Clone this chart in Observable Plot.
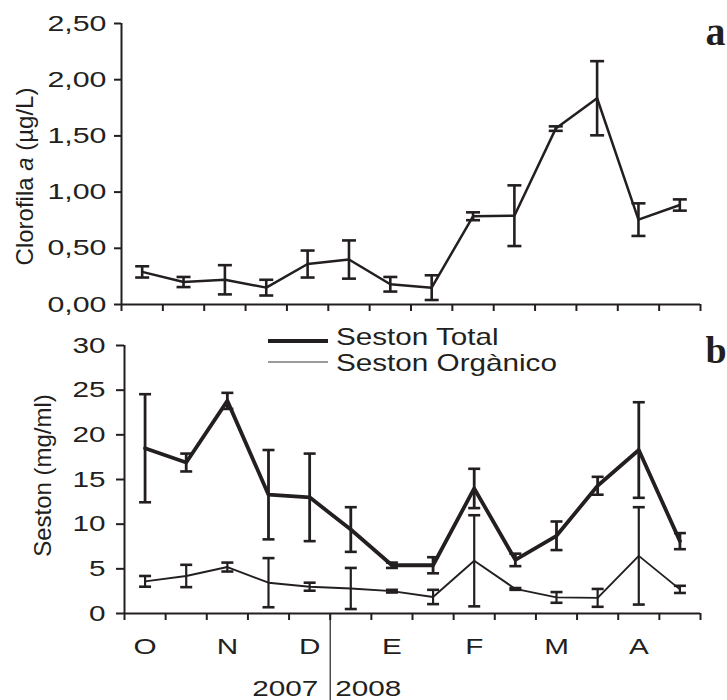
<!DOCTYPE html>
<html><head><meta charset="utf-8">
<script src="https://cdn.jsdelivr.net/npm/d3@7"></script>
<script src="https://cdn.jsdelivr.net/npm/@observablehq/plot@0.6"></script>
<style>
body{margin:0;background:#fff;}
#wrap{position:relative;width:727px;height:700px;overflow:hidden;}
#wrap > svg{display:block;}
</style></head><body><div id="wrap"></div>
<script>
// ---- data ----
const samples = [1,2,3,4,5,6,7,8,9,10,11,12,13,14];
const months = ["O","N","D","E","F","M","A"];
const monthSamples = [1,3,5,7,9,11,13];
const years = ["2007","2008"];
const samples2007 = 5;
const chlMean = [0.29,0.20,0.22,0.15,0.36,0.40,0.18,0.15,0.785,0.79,1.565,1.835,0.755,0.885];
const chlErr  = [0.05,0.045,0.13,0.07,0.12,0.17,0.065,0.11,0.035,0.27,0.02,0.33,0.145,0.05];
const totalMean = [18.5,16.9,23.8,13.3,13.0,9.4,5.4,5.4,14.0,6.0,8.7,14.3,18.3,8.1];
const totalErr  = [6.05,1.0,0.9,5.0,4.9,2.5,0.3,0.9,2.2,0.7,1.6,1.0,5.35,0.9];
const organicMean = [3.6,4.2,5.2,3.45,3.0,2.8,2.5,1.85,5.9,2.75,1.8,1.75,6.45,2.7];
const organicErr  = [0.6,1.25,0.5,2.75,0.45,2.3,0.15,0.8,5.1,0.1,0.6,1.0,5.45,0.4];
const chlTicks = [0,0.5,1,1.5,2,2.5];
const sestonTicks = [0,5,10,15,20,25,30];
const seriesNames = ["Seston Total","Seston Orgànico"];
const titleA = "Clorofila a (µg/L)";
const titleB = "Seston (mg/ml)";
const panelLetters = ["a","b"];

// ---- styling ----
const INK = "#231f20";
const FONT = "'Liberation Sans', Arial, sans-serif";
const SERIF = "'Liberation Serif', 'Times New Roman', serif";
const capSym = {draw(ctx, size){const w = Math.sqrt(size/Math.PI); ctx.moveTo(-w,0); ctx.lineTo(w,0);}};

const rows = (means, errs) => samples.map((s,i)=>({x: s-0.5, m: means[i], e: errs[i]}));
function errMarks(data, w, rr){
  return [
    Plot.ruleX(data, {x:"x", y1:d=>d.m-d.e, y2:d=>d.m+d.e, stroke:INK, strokeWidth:w}),
    Plot.dot(data, {x:"x", y:d=>d.m+d.e, symbol:capSym, r:rr, stroke:INK, strokeWidth:2.6, fill:"none"}),
    Plot.dot(data, {x:"x", y:d=>d.m-d.e, symbol:capSym, r:rr, stroke:INK, strokeWidth:2.6, fill:"none"})
  ];
}
const chl = rows(chlMean, chlErr);
const tot = rows(totalMean, totalErr);
const org = rows(organicMean, organicErr);
const boundaries = d3.range(0, samples.length+1);

const topChart = Plot.plot({
  width:727, height:312, marginLeft:121, marginRight:27, marginTop:23, marginBottom:8,
  style:{fontFamily:FONT, fontSize:"22px", color:INK, background:"#fff", overflow:"visible"},
  x:{domain:[0,samples.length]},
  y:{domain:[0,2.5]},
  marks:[
    Plot.axisY(chlTicks, {tickSize:7, tickPadding:8, strokeWidth:2, label:null, tickFormat:d=>d.toFixed(2).replace(".",",")}),
    Plot.axisX(boundaries, {tickSize:7, strokeWidth:2, label:null, tickFormat:()=>""}),
    Plot.ruleY([0], {stroke:INK, strokeWidth:2}),
    Plot.ruleX([0], {stroke:INK, strokeWidth:2}),
    ...errMarks(chl, 2.6, 7),
    Plot.line(chl, {x:"x", y:"m", stroke:INK, strokeWidth:2.5}),
    Plot.text([titleA], {frameAnchor:"left", rotate:-90, dx:-89, dy:12.5, textAnchor:"middle", lineAnchor:"bottom", fontSize:24, fill:INK}),
    Plot.text([panelLetters[0]], {frameAnchor:"top-right", dx:5, dy:21, textAnchor:"start", lineAnchor:"bottom", fontFamily:SERIF, fontWeight:"bold", fontSize:40, fill:INK})
  ]
});

const bottomChart = Plot.plot({
  width:727, height:388, marginLeft:124, marginRight:27, marginTop:33, marginBottom:87,
  style:{fontFamily:FONT, fontSize:"22px", color:INK, background:"#fff", overflow:"visible"},
  x:{domain:[0,samples.length]},
  y:{domain:[0,30]},
  marks:[
    Plot.axisY(sestonTicks, {tickSize:8, tickPadding:11, strokeWidth:2, label:null}),
    Plot.axisX(boundaries, {tickSize:7, strokeWidth:2, label:null, tickFormat:()=>""}),
    Plot.axisX(monthSamples.map(s=>s-0.5), {tickSize:0, tickPadding:25, label:null, tickFormat:d=>months[(d-0.5)/2]}),
    Plot.axisX([samples2007], {tickSize:87, strokeWidth:1.2, label:null, tickFormat:()=>""}),
    Plot.ruleY([0], {stroke:INK, strokeWidth:2}),
    Plot.ruleX([0], {stroke:INK, strokeWidth:2}),
    ...errMarks(tot, 2.8, 6),
    Plot.line(tot, {x:"x", y:"m", stroke:INK, strokeWidth:3.8}),
    ...errMarks(org, 2.2, 6),
    Plot.line(org, {x:"x", y:"m", stroke:INK, strokeWidth:1.9}),
    Plot.text([years[0]], {x:samples2007, frameAnchor:"bottom", dx:-12, dy:82, textAnchor:"end", lineAnchor:"bottom", fill:INK}),
    Plot.text([years[1]], {x:samples2007, frameAnchor:"bottom", dx:5, dy:82, textAnchor:"start", lineAnchor:"bottom", fill:INK}),
    Plot.text([titleB], {frameAnchor:"left", rotate:-90, dx:-74, dy:-4, textAnchor:"middle", lineAnchor:"bottom", fontSize:24, fill:INK}),
    Plot.text([panelLetters[1]], {frameAnchor:"top-right", dx:5, dy:17, textAnchor:"start", lineAnchor:"bottom", fontFamily:SERIF, fontWeight:"bold", fontSize:38, fill:INK})
  ]
});

// widen the stretched sans labels (ticks, months, years)
function stretch(svg, s){
  svg.querySelectorAll("text").forEach(t=>{
    const txt = t.textContent.trim();
    if (!/^([\d,]+|[A-Z])$/.test(txt)) return;
    const tr = t.getAttribute("transform");
    if (tr && !/rotate/.test(tr)) t.setAttribute("transform", tr + ` scale(${s},1)`);
    else if (!tr) {
      const x = t.getAttribute("x") || 0, y = t.getAttribute("y") || 0;
      if (/em/.test(String(y))) { t.setAttribute("transform", `translate(${x},0) scale(${s},1)`); t.removeAttribute("x"); }
      else { t.setAttribute("transform", `translate(${x},${y}) scale(${s},1)`); t.removeAttribute("x"); t.removeAttribute("y"); }
    }
  });
}
stretch(topChart, 1.38);
stretch(bottomChart, 1.35);
// italic "a" in the chlorophyll title
topChart.querySelectorAll("text").forEach(t=>{
  if (t.textContent === titleA) {
    t.textContent = "";
    const parts = titleA.split(" a ");
    const add = (str, italic)=>{const sp=document.createElementNS("http://www.w3.org/2000/svg","tspan"); sp.textContent=str; if(italic) sp.setAttribute("font-style","italic"); t.appendChild(sp);};
    add(parts[0] + " ", false); add("a", true); add(" " + parts[1], false);
  }
});

const wrap = document.getElementById("wrap");
wrap.appendChild(topChart);
wrap.appendChild(bottomChart);

// legend overlay
const leg = d3.select(wrap).append("svg")
  .attr("width",727).attr("height",700)
  .style("position","absolute").style("left","0px").style("top","0px").style("pointer-events","none");
const legItems = [
  {name: seriesNames[0], lineY: 341, textY: 345, w: 4, color: INK},
  {name: seriesNames[1], lineY: 362, textY: 371, w: 1.5, color: "#7a7a7a"}
];
legItems.forEach(it=>{
  leg.append("line").attr("x1",268).attr("x2",328).attr("y1",it.lineY).attr("y2",it.lineY)
    .attr("stroke",it.color).attr("stroke-width",it.w);
  leg.append("text").attr("transform",`translate(336,${it.textY}) scale(1.29,1)`)
    .attr("font-family",FONT).attr("font-size",23).attr("fill",INK).text(it.name);
});
</script></body></html>
